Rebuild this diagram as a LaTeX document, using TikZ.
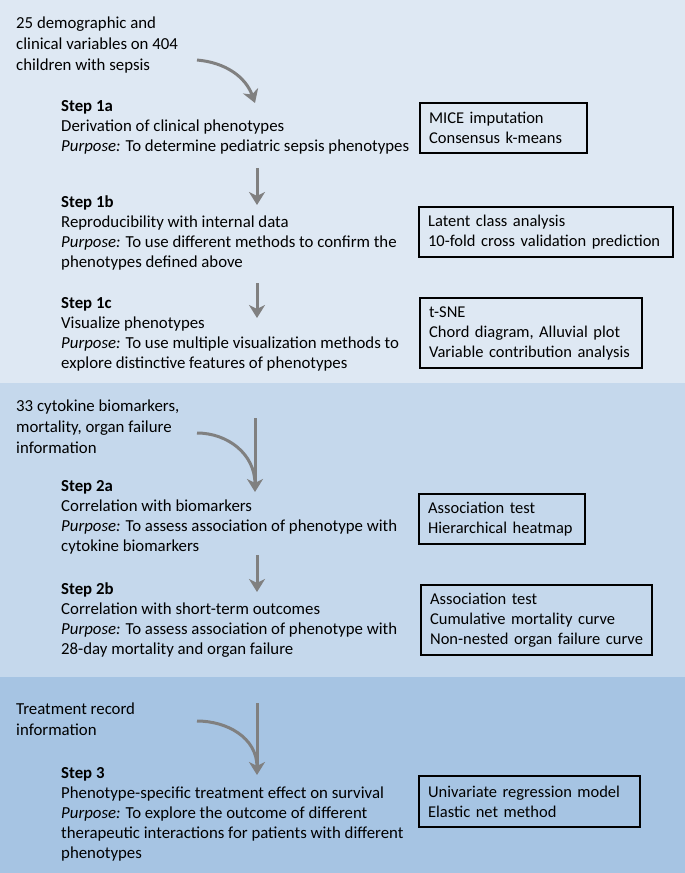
\documentclass[tikz,border=0pt]{standalone}
\usepackage{fontspec}
\setmainfont{Carlito}
\usetikzlibrary{arrows.meta,positioning}
\definecolor{bandA}{RGB}{222,232,243}
\definecolor{bandB}{RGB}{197,216,236}
\definecolor{bandC}{RGB}{166,196,227}
\definecolor{flowgray}{RGB}{128,128,128}

\begin{document}
\begin{tikzpicture}[x=1pt,y=1pt,
    input/.style={anchor=north west, inner sep=0pt, align=left, font=\fontsize{16.8}{21}\selectfont},
    stepbox/.style={anchor=north west, inner sep=0pt, align=left, font=\fontsize{16.8}{20}\selectfont},
    tool/.style={draw, line width=2.2pt, anchor=north west, align=left, inner xsep=9pt, inner ysep=0pt, font=\fontsize{16.5}{20}\selectfont},
    flow/.style={line width=3pt, flowgray, -{Stealth[length=13pt,width=16pt,inset=4pt]}}]
    %Bands
    \fill[bandA] (0,0) rectangle (685,-383);
    \fill[bandB] (0,-383) rectangle (685,-677);
    \fill[bandC] (0,-677) rectangle (685,-873);
    \useasboundingbox (0,0) rectangle (685,-873);
    %Step 1
    \node[input] (in1) at (16,-17) {25 demographic and\\clinical variables on 404\\children with sepsis};
    \node[stepbox] (s1a) at (61,-100) {\textbf{Step 1a}\\Derivation of clinical phenotypes\\\textit{Purpose:} To determine pediatric sepsis phenotypes};
    \node[tool, text width=149pt, minimum height=50pt] (t1a) at (419,-102) {MICE imputation\\Consensus k-means};
    \node[stepbox] (s1b) at (61,-196) {\textbf{Step 1b}\\Reproducibility with internal data\\\textit{Purpose:} To use different methods to confirm the\\phenotypes defined above};
    \node[tool, text width=236pt, minimum height=50pt] (t1b) at (418,-206) {Latent class analysis\\10-fold cross validation prediction};
    \node[stepbox] (s1c) at (61,-297) {\textbf{Step 1c}\\Visualize phenotypes\\\textit{Purpose:} To use multiple visualization methods to\\explore distinctive features of phenotypes};
    \node[tool, text width=204pt, minimum height=70pt] (t1c) at (419,-297) {t-SNE\\Chord diagram, Alluvial plot\\Variable contribution analysis};
    \coordinate (c1) at (197,-60);
    \coordinate (c1a) at (255,-103);
    \coordinate (c1b) at (257,-168);
    \coordinate (c1b') at (257,-205);
    \coordinate (c1c) at (257,-283);
    \coordinate (c1c') at (257,-318);
    \draw[flow] (c1) to[out=-5,in=110] (c1a);
    \draw[flow] (c1b) -- (c1b');
    \draw[flow] (c1c) -- (c1c');
    %Step 2
    \node[input] (in2) at (16,-400) {33 cytokine biomarkers,\\mortality, organ failure\\information};
    \node[stepbox] (s2a) at (61,-480) {\textbf{Step 2a}\\Correlation with biomarkers\\\textit{Purpose:} To assess association of phenotype with\\cytokine biomarkers};
    \node[tool, text width=148pt, minimum height=50pt] (t2a) at (418,-493) {Association test\\Hierarchical heatmap};
    \node[stepbox] (s2b) at (61,-583) {\textbf{Step 2b}\\Correlation with short-term outcomes\\\textit{Purpose:} To assess association of phenotype with\\28-day mortality and organ failure};
    \node[tool, text width=213pt, minimum height=70pt] (t2b) at (420,-584) {Association test\\Cumulative mortality curve\\Non-nested organ failure curve};
    \coordinate (c2) at (197,-433);
    \coordinate (c2top) at (255,-418);
    \coordinate (c2a) at (255,-492);
    \coordinate (c2b) at (257,-555);
    \coordinate (c2b') at (257,-592);
    \draw[flow] (c2top) -- (c2a);
    \draw[line width=3pt, flowgray] (c2) to[out=0,in=90] ([yshift=8pt]c2a);
    \draw[flow] (c2b) -- (c2b');
    %Step 3
    \node[input] (in3) at (16,-703) {Treatment record\\information};
    \node[stepbox] (s3) at (61,-767) {\textbf{Step 3}\\Phenotype-specific treatment effect on survival\\\textit{Purpose:} To explore the outcome of different\\therapeutic interactions for patients with different\\phenotypes};
    \node[tool, text width=203pt, minimum height=51pt] (t3) at (418,-775) {Univariate regression model\\Elastic net method};
    \coordinate (c3) at (197,-721);
    \coordinate (c3top) at (257,-703);
    \coordinate (c3a) at (257,-775);
    \draw[flow] (c3top) -- (c3a);
    \draw[line width=3pt, flowgray] (c3) to[out=0,in=90] ([yshift=8pt]c3a);
\end{tikzpicture}
\end{document}
